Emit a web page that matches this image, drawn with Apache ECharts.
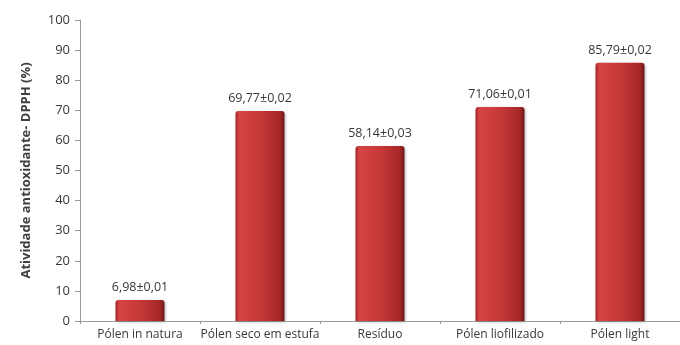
<!DOCTYPE html>
<html>
<head>
<meta charset="utf-8">
<script src="https://cdn.jsdelivr.net/npm/echarts@6/dist/echarts.min.js"></script>
<style>html,body{margin:0;padding:0;background:#fff}#c{width:680px;height:345px}</style>
</head>
<body>
<div id="c"></div>
<script>
// Atividade antioxidante (DPPH) das amostras de pólen
var categories = ['Pólen in natura', 'Pólen seco em estufa', 'Resíduo', 'Pólen liofilizado', 'Pólen light'];
var values = [6.98, 69.77, 58.14, 71.06, 85.79];
var deviations = [0.01, 0.02, 0.03, 0.01, 0.02];
var yTicks = [0, 10, 20, 30, 40, 50, 60, 70, 80, 90, 100];

function fmt(v) { return v.toFixed(2).replace('.', ','); }

var chart = echarts.init(document.getElementById('c'));
chart.setOption({
  animation: false,
  grid: { left: 80, top: 20, width: 602, height: 301 },
  xAxis: {
    type: 'category',
    data: categories,
    axisLine: { lineStyle: { color: '#9a9a9a' } },
    axisTick: { show: true, length: 3, lineStyle: { color: '#9a9a9a' } },
    axisLabel: { color: '#383838', fontFamily: 'Open Sans', fontSize: 12, margin: 8, interval: 0 }
  },
  yAxis: {
    type: 'value',
    min: yTicks[0], max: yTicks[yTicks.length - 1], interval: 10,
    name: 'Atividade antioxidante- DPPH (%)',
    nameLocation: 'middle', nameGap: 47, nameRotate: 90,
    nameTextStyle: { color: '#404040', fontFamily: 'Open Sans', fontWeight: 'bold', fontSize: 13 },
    axisLine: { show: true, lineStyle: { color: '#9a9a9a' } },
    axisTick: { show: true, length: 5, lineStyle: { color: '#9a9a9a' } },
    axisLabel: { color: '#383838', fontFamily: 'Open Sans', fontSize: 13, margin: 10 },
    splitLine: { show: false }
  },
  series: [{
    type: 'bar',
    data: values,
    barWidth: 49,
    itemStyle: {
      color: new echarts.graphic.LinearGradient(0, 0, 1, 0, [
        { offset: 0, color: '#a32626' },
        { offset: 0.08, color: '#d44646' },
        { offset: 0.5, color: '#c63838' },
        { offset: 0.9, color: '#a82828' },
        { offset: 1, color: '#6e1515' }
      ]),
      borderRadius: [3, 3, 0, 0],
      shadowColor: 'rgba(0,0,0,0.25)', shadowBlur: 3, shadowOffsetX: 1, shadowOffsetY: 1
    },
    label: {
      show: true, position: 'top', distance: 6,
      color: '#383838', fontFamily: 'Open Sans', fontSize: 12.5,
      formatter: function (p) { return fmt(values[p.dataIndex]) + '±' + fmt(deviations[p.dataIndex]); }
    }
  }]
});
</script>
</body>
</html>
